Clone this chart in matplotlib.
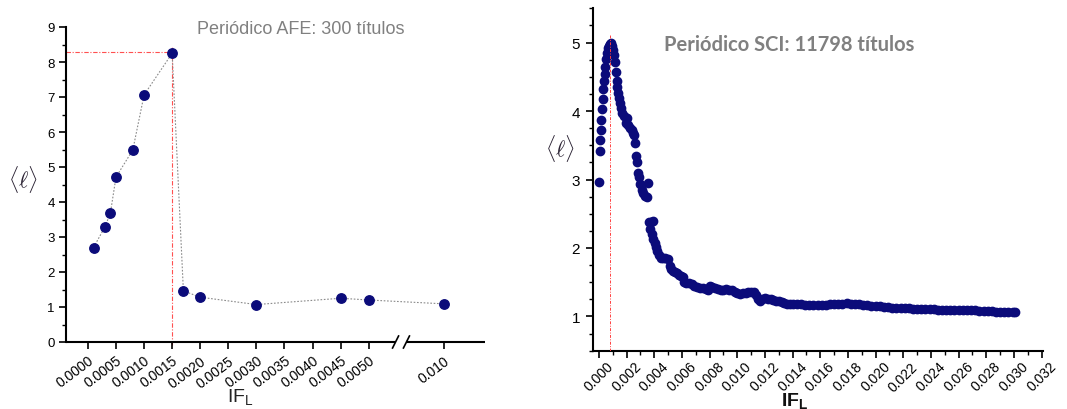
import numpy as np
import matplotlib
matplotlib.use('Agg')
import matplotlib.pyplot as plt
from matplotlib.ticker import MultipleLocator, FixedLocator, FixedFormatter

plt.rcParams['font.family'] = ['Liberation Sans', 'DejaVu Sans']
plt.rcParams['mathtext.fontset'] = 'custom'
plt.rcParams['mathtext.rm'] = 'Liberation Sans'
plt.rcParams['mathtext.bf'] = 'Liberation Sans:bold'
plt.rcParams['mathtext.it'] = 'Liberation Sans:italic'

# ---------------- data ----------------
afe_x = [0.0001, 0.0003, 0.0004, 0.0005, 0.0008, 0.0010, 0.0015,
         0.0017, 0.0020, 0.0030, 0.0045, 0.0050, 0.0100]
afe_y = [2.70, 3.28, 3.68, 4.71, 5.49, 7.06, 8.25,
         1.46, 1.28, 1.07, 1.25, 1.20, 1.09]
afe_ticks = [0.0000, 0.0005, 0.0010, 0.0015, 0.0020, 0.0025, 0.0030,
             0.0035, 0.0040, 0.0045, 0.0050, 0.010]
afe_tick_labels = ['0.0000', '0.0005', '0.0010', '0.0015', '0.0020', '0.0025',
                   '0.0030', '0.0035', '0.0040', '0.0045', '0.0050', '0.010']

sci_x = [0.00000, 0.00005, 0.00010, 0.00013, 0.00018, 0.00022, 0.00026, 0.00031,
         0.00036, 0.00040, 0.00045, 0.00050, 0.00055, 0.00063, 0.00070, 0.00076,
         0.00082, 0.00090, 0.00097, 0.00103, 0.00108, 0.00113, 0.00120, 0.00127,
         0.00132, 0.00137, 0.00145, 0.00152, 0.00160, 0.00167, 0.00178, 0.00193,
         0.00205, 0.00210, 0.00222, 0.00235, 0.00245, 0.00255, 0.00262, 0.00270,
         0.00277, 0.00285, 0.00292, 0.00300, 0.00310, 0.00320, 0.00335, 0.00348,
         0.00355, 0.00362, 0.00375, 0.00390, 0.00370, 0.00382, 0.00392, 0.00402,
         0.00412, 0.00422, 0.00432, 0.00445, 0.00462, 0.00480, 0.00500, 0.00510,
         0.00522, 0.00535, 0.00550, 0.00565, 0.00580, 0.00595, 0.00605, 0.00615,
         0.00630, 0.00650, 0.00670, 0.00690, 0.00710, 0.00730, 0.00750, 0.00770,
         0.00785, 0.00800, 0.00820, 0.00840, 0.00860, 0.00880, 0.00900, 0.00920,
         0.00940, 0.00960, 0.00980, 0.01000, 0.01020, 0.01040, 0.01060, 0.01080,
         0.01100, 0.01120, 0.01135, 0.01150, 0.01165, 0.01180, 0.01200, 0.01220,
         0.01240, 0.01260, 0.01280, 0.01300, 0.01320, 0.01340, 0.01360, 0.01380,
         0.0140, 0.0143, 0.0146, 0.0149, 0.0152, 0.0155, 0.0158, 0.0161,
         0.0164, 0.0167, 0.0170, 0.0173, 0.0176, 0.0179, 0.0182, 0.0185,
         0.0188, 0.0191, 0.0194, 0.0197, 0.0200, 0.0203, 0.0206, 0.0209,
         0.0212, 0.0215, 0.0218, 0.0221, 0.0224, 0.0227, 0.0230, 0.0233,
         0.0236, 0.0239, 0.0242, 0.0245, 0.0248, 0.0251, 0.0254, 0.0257,
         0.0260, 0.0263, 0.0266, 0.0269, 0.0272, 0.0275, 0.0278, 0.0281,
         0.0284, 0.0287, 0.0290, 0.0293, 0.0296, 0.0299, 0.0301]
sci_y = [2.97, 3.41, 3.57, 3.73, 3.87, 4.03, 4.18, 4.32,
         4.44, 4.54, 4.64, 4.76, 4.85, 4.92, 4.95, 4.97,
         4.98, 4.99, 4.95, 4.89, 4.82, 4.72, 4.57, 4.44,
         4.35, 4.26, 4.19, 4.11, 4.04, 3.97, 3.93, 3.82,
         3.90, 3.79, 3.75, 3.72, 3.68, 3.65, 3.53, 3.34,
         3.26, 3.10, 3.03, 2.93, 2.85, 2.81, 2.76, 2.74,
         2.95, 2.38, 2.38, 2.40, 2.28, 2.20, 2.13, 2.07,
         2.01, 1.95, 1.90, 1.86, 1.85, 1.85, 1.84, 1.73,
         1.69, 1.67, 1.65, 1.63, 1.61, 1.59, 1.57, 1.50,
         1.49, 1.49, 1.47, 1.45, 1.43, 1.42, 1.41, 1.40,
         1.38, 1.44, 1.43, 1.42, 1.40, 1.39, 1.39, 1.40,
         1.39, 1.38, 1.36, 1.34, 1.33, 1.34, 1.34, 1.35,
         1.35, 1.35, 1.31, 1.25, 1.22, 1.25, 1.27, 1.26,
         1.25, 1.24, 1.23, 1.22, 1.21, 1.19, 1.18, 1.18,
         1.18, 1.18, 1.18, 1.17, 1.17, 1.17, 1.17, 1.17,
         1.17, 1.18, 1.18, 1.18, 1.18, 1.19, 1.18, 1.18,
         1.18, 1.17, 1.17, 1.16, 1.16, 1.15, 1.14, 1.14,
         1.13, 1.13, 1.13, 1.12, 1.12, 1.11, 1.11, 1.11,
         1.11, 1.11, 1.11, 1.10, 1.10, 1.10, 1.10, 1.10,
         1.10, 1.10, 1.10, 1.09, 1.09, 1.08, 1.08, 1.08,
         1.08, 1.07, 1.07, 1.07, 1.06, 1.06, 1.06]

title_afe = 'Periódico AFE: 300 títulos'
title_sci = 'Periódico SCI: 11798 títulos'

NAVY = '#0b0b7a'
W, H = 1067, 410

fig = plt.figure(figsize=(W / 100, H / 100), dpi=100)

# ---------------- left panel (broken x axis) ----------------
BREAK = 0.0055
K = 0.1867


def fwd(x):
    x = np.asarray(x, dtype=float)
    return np.where(x <= BREAK, x, BREAK + (x - BREAK) * K)


def inv(t):
    t = np.asarray(t, dtype=float)
    return np.where(t <= BREAK, t, BREAK + (t - BREAK) / K)


ax1 = fig.add_axes([66 / W, 1 - 343 / H, (485 - 66) / W, (343 - 28) / H])
ax1.set_xscale('function', functions=(fwd, inv))
ax1.set_xlim(float(inv(-0.00039)), float(inv(0.00707)))
ax1.set_ylim(0, 9)

ax1.plot(afe_x, afe_y, ls=(0, (1.5, 1.5)), color='#8a8a8a', lw=0.8, zorder=2)
ax1.plot(afe_x, afe_y, 'o', ms=6.8, color=NAVY, zorder=3)

ipk = int(np.argmax(afe_y))
px, py = afe_x[ipk], afe_y[ipk]
xl = ax1.get_xlim()
ax1.hlines(py + 0.04, xl[0], px, colors='#ff5050', lw=0.8,
           linestyles=(0, (4, 1.5, 1, 1.5)), zorder=1)
ax1.vlines(px, -0.08, py + 0.2, colors='#ff5050', lw=0.8,
           linestyles=(0, (4, 1.5, 1, 1.5)), zorder=1, clip_on=False)

ax1.xaxis.set_major_locator(FixedLocator(afe_ticks))
ax1.xaxis.set_major_formatter(FixedFormatter(afe_tick_labels))
ax1.xaxis.set_minor_locator(FixedLocator([]))
ax1.yaxis.set_major_locator(MultipleLocator(1))
ax1.yaxis.set_minor_locator(MultipleLocator(0.5))
ax1.tick_params(axis='x', which='major', direction='out', length=5, width=1.2,
                labelsize=10, pad=3)
ax1.tick_params(axis='y', which='major', direction='out', length=5, width=1.2,
                labelsize=9.5, pad=3)
ax1.tick_params(axis='y', which='minor', direction='out', length=3, width=1.0)
for lab in ax1.get_xticklabels():
    lab.set_rotation(37)
    lab.set_ha('right')
    lab.set_rotation_mode('anchor')

for s in ['top', 'right', 'bottom']:
    ax1.spines[s].set_visible(False)
ax1.spines['left'].set_linewidth(1.5)

bx = (401 - 66) / (485 - 66)
gap = 0.013
ax1.plot([0, bx - gap], [0, 0], color='black', lw=1.5, transform=ax1.transAxes,
         clip_on=False, solid_capstyle='butt')
ax1.plot([bx + gap, 1], [0, 0], color='black', lw=1.5, transform=ax1.transAxes,
         clip_on=False, solid_capstyle='butt')
dx, dy = 6 / 419, 12 / 315
for c in (bx - gap, bx + gap):
    ax1.plot([c - dx / 2, c + dx / 2], [-dy / 2, dy / 2], color='black', lw=1.2,
             transform=ax1.transAxes, clip_on=False)

fig.text(301 / W, 1 - 29 / H, title_afe, color='#808080', fontsize=13,
         ha='center', va='center')
fig.text(23 / W, 1 - 180 / H, r'$\langle\ell\rangle$', math_fontfamily='cm',
         fontsize=16, color='#2a2233', ha='center', va='center')
fig.text(240 / W, 1 - 397 / H, r'$\mathrm{IF}_\mathrm{L}$', fontsize=14,
         color='#222222', ha='center', va='center')

# ---------------- right panel ----------------
ax2 = fig.add_axes([592.5 / W, 1 - 351.7 / H, (1043 - 592.5) / W, (351.7 - 9.3) / H])
ax2.set_xlim(-0.00047, 0.0321)
ax2.set_ylim(0.5, 5.5)
ax2.plot(sci_x, sci_y, 'o', ms=6.0, color=NAVY, zorder=3, lw=0)

jpk = int(np.argmax(sci_y))
ax2.vlines(sci_x[jpk] - 0.0001, 0.5, 5.12, colors='#ff4040', lw=0.7,
           linestyles=(0, (3, 1.5, 1, 1.5)), zorder=4)

ax2.xaxis.set_major_locator(MultipleLocator(0.002))
ax2.xaxis.set_minor_locator(MultipleLocator(0.001))
ax2.xaxis.set_major_formatter(matplotlib.ticker.FormatStrFormatter('%.3f'))
ax2.yaxis.set_major_locator(MultipleLocator(1))
ax2.yaxis.set_minor_locator(MultipleLocator(0.25))
ax2.tick_params(axis='both', which='major', direction='out', length=5, width=1.2,
                labelsize=10)
ax2.tick_params(axis='y', labelsize=11)
ax2.tick_params(axis='both', which='minor', direction='out', length=3, width=1.0)
ax2.tick_params(axis='y', pad=4)
ax2.tick_params(axis='x', pad=1)
for lab in ax2.get_xticklabels():
    lab.set_rotation(45)
    lab.set_ha('center')
    lab.set_va('top')
    lab.set_rotation_mode('default')
for s in ['top', 'right']:
    ax2.spines[s].set_visible(False)
for s in ['left', 'bottom']:
    ax2.spines[s].set_linewidth(1.5)

fig.text(789 / W, 1 - 45 / H, title_sci, color='#808080', fontsize=14.5,
         fontweight='bold', family=['Lato', 'DejaVu Sans'],
         ha='center', va='center')
fig.text(560 / W, 1 - 148 / H, r'$\langle\ell\rangle$', math_fontfamily='cm',
         fontsize=16, color='#2a2233', ha='center', va='center')
fig.text(795 / W, 1 - 401 / H, r'$\mathbf{IF}_\mathbf{L}$', fontsize=14,
         color='#111111', ha='center', va='center')

fig.savefig('out.png', dpi=100)
